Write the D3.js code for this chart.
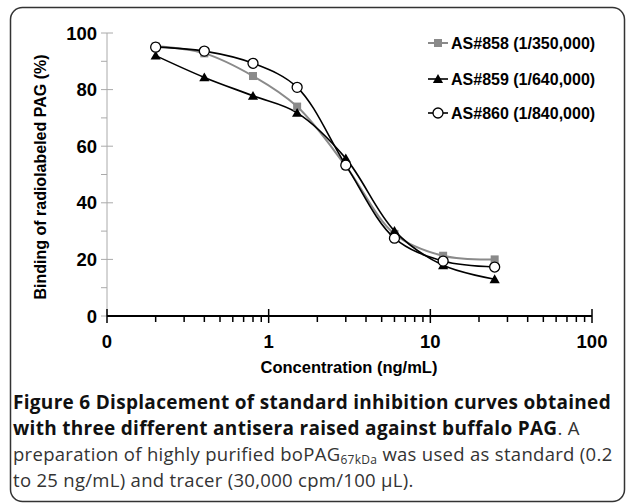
<!DOCTYPE html>
<html>
<head>
<meta charset="utf-8">
<script src="https://cdn.jsdelivr.net/npm/d3@7.7.0/dist/d3.min.js"></script>
<style>
  body { margin: 0; background: #fff; }
  svg { display: block; }
</style>
</head>
<body>
<div id="chart"></div>
<script>
// concentrations (ng/mL)
const concentrations = [0.2, 0.4, 0.8, 1.5, 3, 6, 12, 25];
const as858 = [95.3, 92.8, 84.8, 74, 53, 29, 21.3, 20];
const as859 = [92, 84.3, 77.8, 71.8, 55.7, 30.1, 17.9, 13];
const as860 = [95, 93.6, 89.3, 80.8, 53.3, 27.5, 19.4, 17.3];
const seriesNames = ["AS#858 (1/350,000)", "AS#859 (1/640,000)", "AS#860 (1/840,000)"];
const xTickValues = [0.1, 1, 10, 100];
const xTickLabels = ["0", "1", "10", "100"];
const yTickValues = [0, 20, 40, 60, 80, 100];

const width = 627, height = 503;

const svg = d3.select("#chart").append("svg")
  .attr("width", width)
  .attr("height", height);

// rounded frame round figure + caption
svg.append("rect")
  .attr("x", 10.5).attr("y", 7.5)
  .attr("width", 614).attr("height", 494)
  .attr("rx", 12).attr("ry", 12)
  .attr("fill", "none")
  .attr("stroke", "#333")
  .attr("stroke-width", 1.5);

const x = d3.scaleLog().domain([0.1, 100]).range([107, 592]);
const y = d3.scaleLinear().domain([0, 100]).range([316, 33]);

// y axis (light gray)
const yAxis = svg.append("g").attr("class", "y-axis");
yAxis.append("line")
  .attr("x1", x(0.1)).attr("x2", x(0.1))
  .attr("y1", y(0)).attr("y2", y(100))
  .attr("stroke", "#aaa").attr("stroke-width", 1);
yAxis.selectAll(".major")
  .data(yTickValues)
  .enter().append("line")
  .attr("x1", x(0.1) - 6).attr("x2", x(0.1) + 6)
  .attr("y1", d => y(d)).attr("y2", d => y(d))
  .attr("stroke", "#aaa");
yAxis.selectAll(".minor")
  .data(d3.range(10, 100, 20))
  .enter().append("line")
  .attr("x1", x(0.1) - 6).attr("x2", x(0.1))
  .attr("y1", d => y(d)).attr("y2", d => y(d))
  .attr("stroke", "#aaa");
yAxis.selectAll("text")
  .data(yTickValues)
  .enter().append("text")
  .attr("x", 97)
  .attr("y", d => y(d))
  .attr("dy", "0.36em")
  .attr("text-anchor", "end")
  .style("font", "bold 18.5px 'Liberation Sans', Arial, sans-serif")
  .text(d => d);

// x axis (black, log)
const xAxis = svg.append("g").attr("class", "x-axis");
const minorX = [];
[0.1, 1, 10].forEach(dec => {
  for (let k = 2; k <= 9; k++) minorX.push(dec * k);
});
xAxis.append("line")
  .attr("x1", x(0.1)).attr("x2", x(100))
  .attr("y1", y(0)).attr("y2", y(0))
  .attr("stroke", "#000").attr("stroke-width", 2);
xAxis.selectAll(".minor")
  .data(minorX)
  .enter().append("line")
  .attr("x1", d => x(d)).attr("x2", d => x(d))
  .attr("y1", y(0)).attr("y2", y(0) + 6)
  .attr("stroke", "#000").attr("stroke-width", 1.5);
xAxis.selectAll(".major")
  .data(xTickValues)
  .enter().append("line")
  .attr("x1", d => x(d)).attr("x2", d => x(d))
  .attr("y1", y(0) - 7).attr("y2", y(0) + 7)
  .attr("stroke", "#000").attr("stroke-width", 1.5);
xAxis.selectAll("text")
  .data(xTickValues)
  .enter().append("text")
  .attr("x", d => x(d))
  .attr("y", 348)
  .attr("text-anchor", "middle")
  .style("font", "bold 18.5px 'Liberation Sans', Arial, sans-serif")
  .text((d, i) => xTickLabels[i]);

// axis titles
svg.append("text")
  .attr("x", 349).attr("y", 373)
  .attr("text-anchor", "middle")
  .style("font", "bold 16.5px 'Liberation Sans', Arial, sans-serif")
  .text("Concentration (ng/mL)");
svg.append("text")
  .attr("transform", "translate(46,177) rotate(-90)")
  .attr("text-anchor", "middle")
  .style("font", "bold 16px 'Liberation Sans', Arial, sans-serif")
  .text("Binding of radiolabeled PAG (%)");

// series
const series = [
  { name: seriesNames[0], values: as858, color: "#8a8a8a", width: 2, marker: "square" },
  { name: seriesNames[1], values: as859, color: "#000", width: 1.6, marker: "triangle" },
  { name: seriesNames[2], values: as860, color: "#000", width: 1.6, marker: "circle" }
];

const line = d3.line()
  .x(d => x(d[0]))
  .y(d => y(d[1]))
  .curve(d3.curveCatmullRom.alpha(0.5));

function drawMarker(g, type, color, cx, cy) {
  if (type === "square") {
    g.append("rect")
      .attr("x", cx - 4).attr("y", cy - 4)
      .attr("width", 8).attr("height", 8)
      .attr("fill", color);
  } else if (type === "triangle") {
    g.append("path")
      .attr("d", d3.symbol().type(d3.symbolTriangle).size(45)())
      .attr("transform", `translate(${cx},${cy + 1})`)
      .attr("fill", "#000");
  } else {
    g.append("circle")
      .attr("cx", cx).attr("cy", cy).attr("r", 5)
      .attr("fill", "#fff").attr("stroke", "#000").attr("stroke-width", 1.3);
  }
}

series.forEach(s => {
  const pts = concentrations.map((c, i) => [c, s.values[i]]);
  svg.append("path")
    .datum(pts)
    .attr("d", line)
    .attr("fill", "none")
    .attr("stroke", s.color)
    .attr("stroke-width", s.width);
});
series.forEach(s => {
  const g = svg.append("g");
  concentrations.forEach((c, i) => drawMarker(g, s.marker, s.color, x(c), y(s.values[i])));
});

// legend
const legendY = [43, 79, 113];
series.forEach((s, i) => {
  const g = svg.append("g");
  g.append("line")
    .attr("x1", 428).attr("x2", 448)
    .attr("y1", legendY[i]).attr("y2", legendY[i])
    .attr("stroke", s.color).attr("stroke-width", s.width);
  drawMarker(g, s.marker, s.color, 438, legendY[i]);
  g.append("text")
    .attr("x", 451).attr("y", legendY[i])
    .attr("dy", "0.36em")
    .style("font", "bold 16px 'Liberation Sans', Arial, sans-serif")
    .text(s.name);
});

// caption
const caption = svg.append("text")
  .style("font-family", "'Open Sans', sans-serif")
  .style("font-size", "18.5px")
  .style("letter-spacing", "0.3px")
  .attr("fill", "#333");
const l1 = caption.append("tspan").attr("x", 13).attr("y", 409)
  .style("font-weight", "bold").style("font-size", "19px").attr("fill", "#111");
l1.text("Figure 6 Displacement of standard inhibition curves obtained");
const l2 = caption.append("tspan").attr("x", 13).attr("y", 435);
l2.append("tspan").style("font-weight", "bold").style("font-size", "19px").attr("fill", "#111")
  .text("with three different antisera raised against buffalo PAG");
l2.append("tspan").text(". A");
const l3 = caption.append("tspan").attr("x", 13).attr("y", 461);
l3.append("tspan").text("preparation of highly purified boPAG");
l3.append("tspan").style("font-size", "12px").attr("dy", 3).text("67kDa");
l3.append("tspan").attr("dy", -3).text(" was used as standard (0.2");
caption.append("tspan").attr("x", 13).attr("y", 487)
  .text("to 25 ng/mL) and tracer (30,000 cpm/100 µL).");
</script>
</body>
</html>
